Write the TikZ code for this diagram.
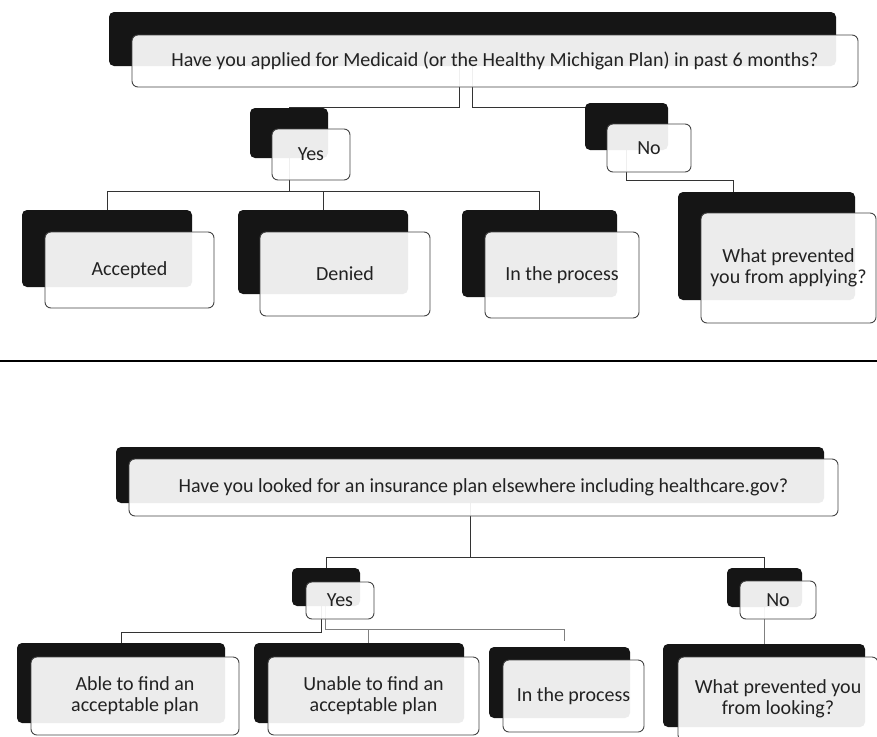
\documentclass[tikz,border=0pt]{standalone}
\usepackage{fontspec}
\setmainfont{Carlito}
\usetikzlibrary{backgrounds}
\definecolor{boxdark}{HTML}{151515}
\definecolor{edgec}{HTML}{444444}
\definecolor{txt}{HTML}{222222}
\begin{document}
\begin{tikzpicture}[x=1pt,y=-1pt,
  darkbox/.style={fill=boxdark,rounded corners=5pt,inner sep=0pt,outer sep=0pt,anchor=north west},
  frontbox/.style={draw=edgec,line width=0.9pt,fill=white,fill opacity=0.92,text opacity=1,
    rounded corners=6pt,inner sep=0pt,outer sep=0pt,anchor=north west,align=center,
    font=\fontsize{20}{21}\selectfont,text=txt},
  conn/.style={draw=black!80,line width=1pt},
  connlight/.style={draw=black!50,line width=1pt}]
\useasboundingbox (0,0) rectangle (877,736);

% ---------- upper diagram ----------
\node[darkbox,minimum width=727pt,minimum height=54pt] (q1d) at (109,12) {};
\node[frontbox,minimum width=726pt,minimum height=52pt] (q1) at (132,35)
  {Have you applied for Medicaid (or the Healthy Michigan Plan) in past 6 months?};
\node[darkbox,minimum width=78pt,minimum height=50pt] (yesd) at (250,108) {};
\node[frontbox,minimum width=78pt,minimum height=51pt] (yes) at (272,129) {Yes};
\node[darkbox,minimum width=83pt,minimum height=47pt] (nod) at (585,103) {};
\node[frontbox,minimum width=84pt,minimum height=48pt] (no) at (607,124) {No};
\node[darkbox,minimum width=170pt,minimum height=77pt] (accd) at (22,210) {};
\node[frontbox,minimum width=169pt,minimum height=76pt] (acc) at (45,232) {Accepted};
\node[darkbox,minimum width=170pt,minimum height=84pt] (dend) at (238,210) {};
\node[frontbox,minimum width=170pt,minimum height=84pt] (den) at (260,232) {Denied};
\node[darkbox,minimum width=155pt,minimum height=87pt] (inpd) at (462,210) {};
\node[frontbox,minimum width=154pt,minimum height=86pt] (inp) at (485,232) {In the process};
\node[darkbox,minimum width=177pt,minimum height=108pt] (wpd) at (678,192) {};
\node[frontbox,minimum width=175pt,minimum height=110pt] (wp) at (701,213)
  {What prevented\\you from applying?};

% ---------- lower diagram ----------
\node[darkbox,minimum width=708pt,minimum height=56pt] (q2d) at (116,447) {};
\node[frontbox,minimum width=709pt,minimum height=57pt] (q2) at (129,459)
  {Have you looked for an insurance plan elsewhere including healthcare.gov?};
\node[darkbox,minimum width=68pt,minimum height=38pt] (yes2d) at (292,568) {};
\node[frontbox,minimum width=68pt,minimum height=37pt] (yes2) at (306,582) {Yes};
\node[darkbox,minimum width=75pt,minimum height=39pt] (no2d) at (727,568) {};
\node[frontbox,minimum width=76pt,minimum height=38pt] (no2) at (740,581) {No};
\node[darkbox,minimum width=208pt,minimum height=80pt] (abld) at (17,643) {};
\node[frontbox,minimum width=208pt,minimum height=78pt] (abl) at (31,657)
  {Able to find an\\acceptable plan};
\node[darkbox,minimum width=210pt,minimum height=80pt] (unad) at (254,643) {};
\node[frontbox,minimum width=211pt,minimum height=78pt] (una) at (268,657)
  {Unable to find an\\acceptable plan};
\node[darkbox,minimum width=141pt,minimum height=71pt] (inp2d) at (489,647) {};
\node[frontbox,minimum width=141pt,minimum height=72pt] (inp2) at (503,660) {In the process};
\node[darkbox,minimum width=202pt,minimum height=83pt] (wp2d) at (663,644) {};
\node[frontbox,minimum width=200pt,minimum height=84pt] (wp2) at (678,657)
  {What prevented you\\from looking?};

\begin{pgfonlayer}{background}
  \fill[white] (0,0) rectangle (877,736);
  % upper connectors
  \coordinate (a1) at (459,107);
  \coordinate (a2) at (472.5,107);
  \draw[conn] ([xshift=-13.5pt]q1d.south) -- (a1) -| (yesd.north);
  \draw[conn] (q1d.south) -- (a2) -| (nod.north);
  \coordinate (b1) at (289,191);
  \draw[conn] (yesd.south) -- (b1) -| (accd.north);
  \draw[conn] (b1) -| (dend.north);
  \draw[conn] (b1) -| (inpd.north);
  \coordinate (c1) at (626.5,180);
  \coordinate (c2) at (733,180);
  \coordinate (c3) at (733,192);
  \draw[conn] (nod.south) -- (c1) -- (c2) -- (c3);
  % lower connectors
  \coordinate (d1) at (470,557);
  \draw[conn] (q2d.south) -- (d1) -| (yes2d.north);
  \draw[conn] (d1) -| (no2d.north);
  \coordinate (e1) at (321,632);
  \draw[conn] ([xshift=-5pt]yes2d.south) -- (e1) -| (abld.north);
  \coordinate (e2) at (325,629);
  \coordinate (e3) at (564,629);
  \coordinate (e4) at (564,641);
  \coordinate (e5) at (368,629);
  \coordinate (e6) at (368,643);
  \draw[connlight] ([xshift=-1pt]yes2d.south) -- (e2) -- (e3) -- (e4);
  \draw[connlight] (e5) -- (e6);
  \draw[connlight] (no2d.south) -- (no2d.south |- wp2d.north);
\end{pgfonlayer}

% divider
\draw[line width=2pt] (0,361) -- (877,361);
\end{tikzpicture}
\end{document}
